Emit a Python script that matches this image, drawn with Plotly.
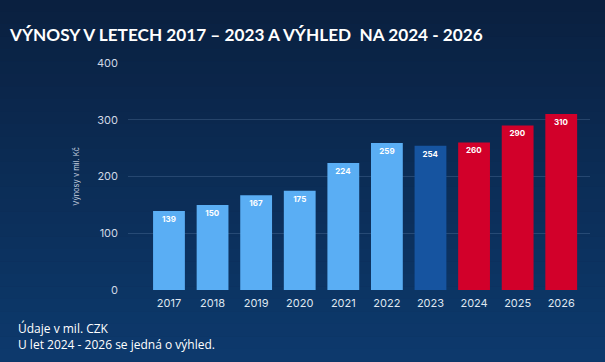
import plotly.graph_objects as go

years = ["2017", "2018", "2019", "2020", "2021", "2022", "2023", "2024", "2025", "2026"]
values = [139, 150, 167, 175, 224, 259, 254, 260, 290, 310]
bar_colors = ["#5aaef4"] * 6 + ["#1654a0"] + ["#d2002a"] * 3
y_ticks = [0, 100, 200, 300, 400]

fig = go.Figure()
fig.add_trace(go.Bar(
    x=years, y=values,
    marker=dict(color=bar_colors, line=dict(width=0)),
    text=["<b>%d</b>" % v for v in values],
    textposition="inside", insidetextanchor="end",
    textfont=dict(color="white", size=8, family="Inter"),
    cliponaxis=False,
))

# background gradient (top dark navy -> bottom lighter blue)
shapes = []
n = 40
top = (10, 29, 58)
bot = (14, 64, 120)
for i in range(n):
    t = i / (n - 1)
    c = tuple(int(top[k] + (bot[k] - top[k]) * t) for k in range(3))
    shapes.append(dict(type="rect", xref="paper", yref="paper",
                       x0=-1, x1=2, y0=1.5 - (i + 1) * 2.2 / n, y1=1.5 - i * 2.2 / n + 0.001,
                       fillcolor="rgb(%d,%d,%d)" % c, line=dict(width=0), layer="below"))

fig.update_layout(
    width=605, height=362,
    margin=dict(l=128, r=15, t=63, b=72),
    paper_bgcolor="#0c2a52",
    plot_bgcolor="rgba(0,0,0,0)",
    shapes=shapes,
    bargap=0.27,
    showlegend=False,
    xaxis=dict(type="category", range=[-0.94, 9.66], showgrid=False, zeroline=False,
               showline=False, ticks="", ticklabelstandoff=5,
               tickfont=dict(color="#dfe6f0", size=11, family="Inter")),
    yaxis=dict(range=[0, 400], tickvals=y_ticks, showgrid=True, gridcolor="rgba(120,150,190,0.25)",
               gridwidth=1, zeroline=False, showline=False,
               tickfont=dict(color="#d0d8e4", size=11, family="Inter"), ticklabelstandoff=9,
               title=dict(text="Výnosy v mil. Kč", font=dict(color="#c8d2e0", size=7.5, family="Inter"),
                          standoff=16)),
    annotations=[
        dict(text="<b>VÝNOSY V LETECH 2017 – 2023 A VÝHLED  NA 2024 - 2026</b>", xref="paper", yref="paper",
             x=-121 / 462, y=1 + (63 - 35) / 227, xanchor="left", yanchor="middle", showarrow=False,
             font=dict(color="white", size=17.2, family="Lato")),
        dict(text="Údaje v mil. CZK<br>U let 2024 - 2026 se jedná o výhled.", xref="paper", yref="paper",
             x=-112 / 462, y=-(318 - 290) / 227, xanchor="left", yanchor="top", align="left", showarrow=False,
             font=dict(color="white", size=12, family="Open Sans")),
    ],
)

fig.write_html("out.html", config={"displayModeBar": False},
               post_script="document.body.style.margin='0';document.body.style.overflow='hidden';")
